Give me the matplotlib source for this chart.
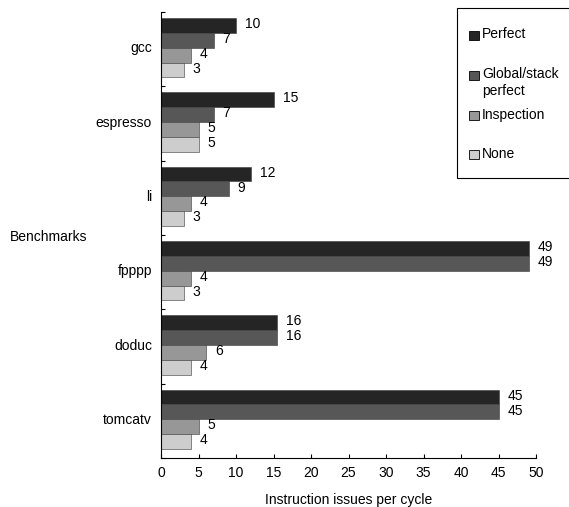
import numpy as np
import matplotlib
matplotlib.use("Agg")
import matplotlib.pyplot as plt
from matplotlib.patches import Rectangle

plt.rcParams['font.family'] = ['Liberation Sans', 'DejaVu Sans']

# data
benchmarks = ["gcc", "espresso", "li", "fpppp", "doduc", "tomcatv"]
series_names = ["Perfect", "Global/stack\nperfect", "Inspection", "None"]
perfect = [10, 15, 12, 49, 15.5, 45]
global_stack = [7, 7, 9, 49, 15.5, 45]
inspection = [4, 5, 4, 4, 6, 5]
none = [3, 5, 3, 3, 4, 4]
colors = ["#252525", "#575757", "#979797", "#cdcdcd"]
xticks = [0, 5, 10, 15, 20, 25, 30, 35, 40, 45, 50]

FS = 10
W, H = 569, 507

fig = plt.figure(figsize=(W / 100, H / 100), dpi=100)
ax = fig.add_axes([161 / W, 1 - 458 / H, 375 / W, 446 / H])

series = [perfect, global_stack, inspection, none]
bar_h = 0.2
y0 = np.arange(len(benchmarks))
for k, vals in enumerate(series):
    ypos = y0 + 0.08 + bar_h * (k + 0.5)
    ax.barh(ypos, vals, height=bar_h, color=colors[k], edgecolor="#3a3a3a", linewidth=0.4)
    for y, v in zip(ypos, vals):
        ax.annotate(f"{v:.0f}", (v, y), xytext=(6.5, 1), textcoords="offset points",
                    va="center", ha="left", fontsize=FS)

ax.set_xlim(0, 50)
ax.set_ylim(len(benchmarks), 0)
ax.set_xticks(xticks)
ax.set_xticklabels([str(t) for t in xticks], fontsize=FS)
ax.set_yticks(y0 + 0.47)
ax.set_yticklabels(benchmarks, fontsize=FS)
ax.set_yticks(np.arange(len(benchmarks) + 1), minor=True)
ax.tick_params(axis="y", which="major", length=0, pad=6.5)
ax.tick_params(axis="y", which="minor", direction="in", length=3, width=0.8)
ax.tick_params(axis="x", direction="in", length=3, width=0.8, pad=6)
for s in ["top", "right"]:
    ax.spines[s].set_visible(False)
for s in ["left", "bottom"]:
    ax.spines[s].set_linewidth(0.8)

ax.set_xlabel("Instruction issues per cycle", fontsize=FS, labelpad=9)
ax.set_ylabel("Benchmarks", fontsize=FS, rotation=0, ha="left", va="center")
ax.yaxis.set_label_coords((10 - 161) / 375, (458 - 237) / 446)

# legend box drawn in figure pixels
fig.patches.append(Rectangle((457 / W, 1 - 178 / H), 120 / W, 170 / H, transform=fig.transFigure,
                             facecolor="white", edgecolor="black", linewidth=0.8))
legend_y = [35, 75, 115, 155]
for name, c, ly in zip(series_names, colors, legend_y):
    fig.patches.append(Rectangle((469 / W, 1 - (ly + 4.5) / H), 10 / W, 9 / H,
                                 transform=fig.transFigure, facecolor=c,
                                 edgecolor="black", linewidth=0.6))
    fig.text(482 / W, 1 - (ly - 7.5) / H, name, fontsize=FS, ha="left", va="top",
             linespacing=1.2)

fig.savefig("out.png", dpi=100)
